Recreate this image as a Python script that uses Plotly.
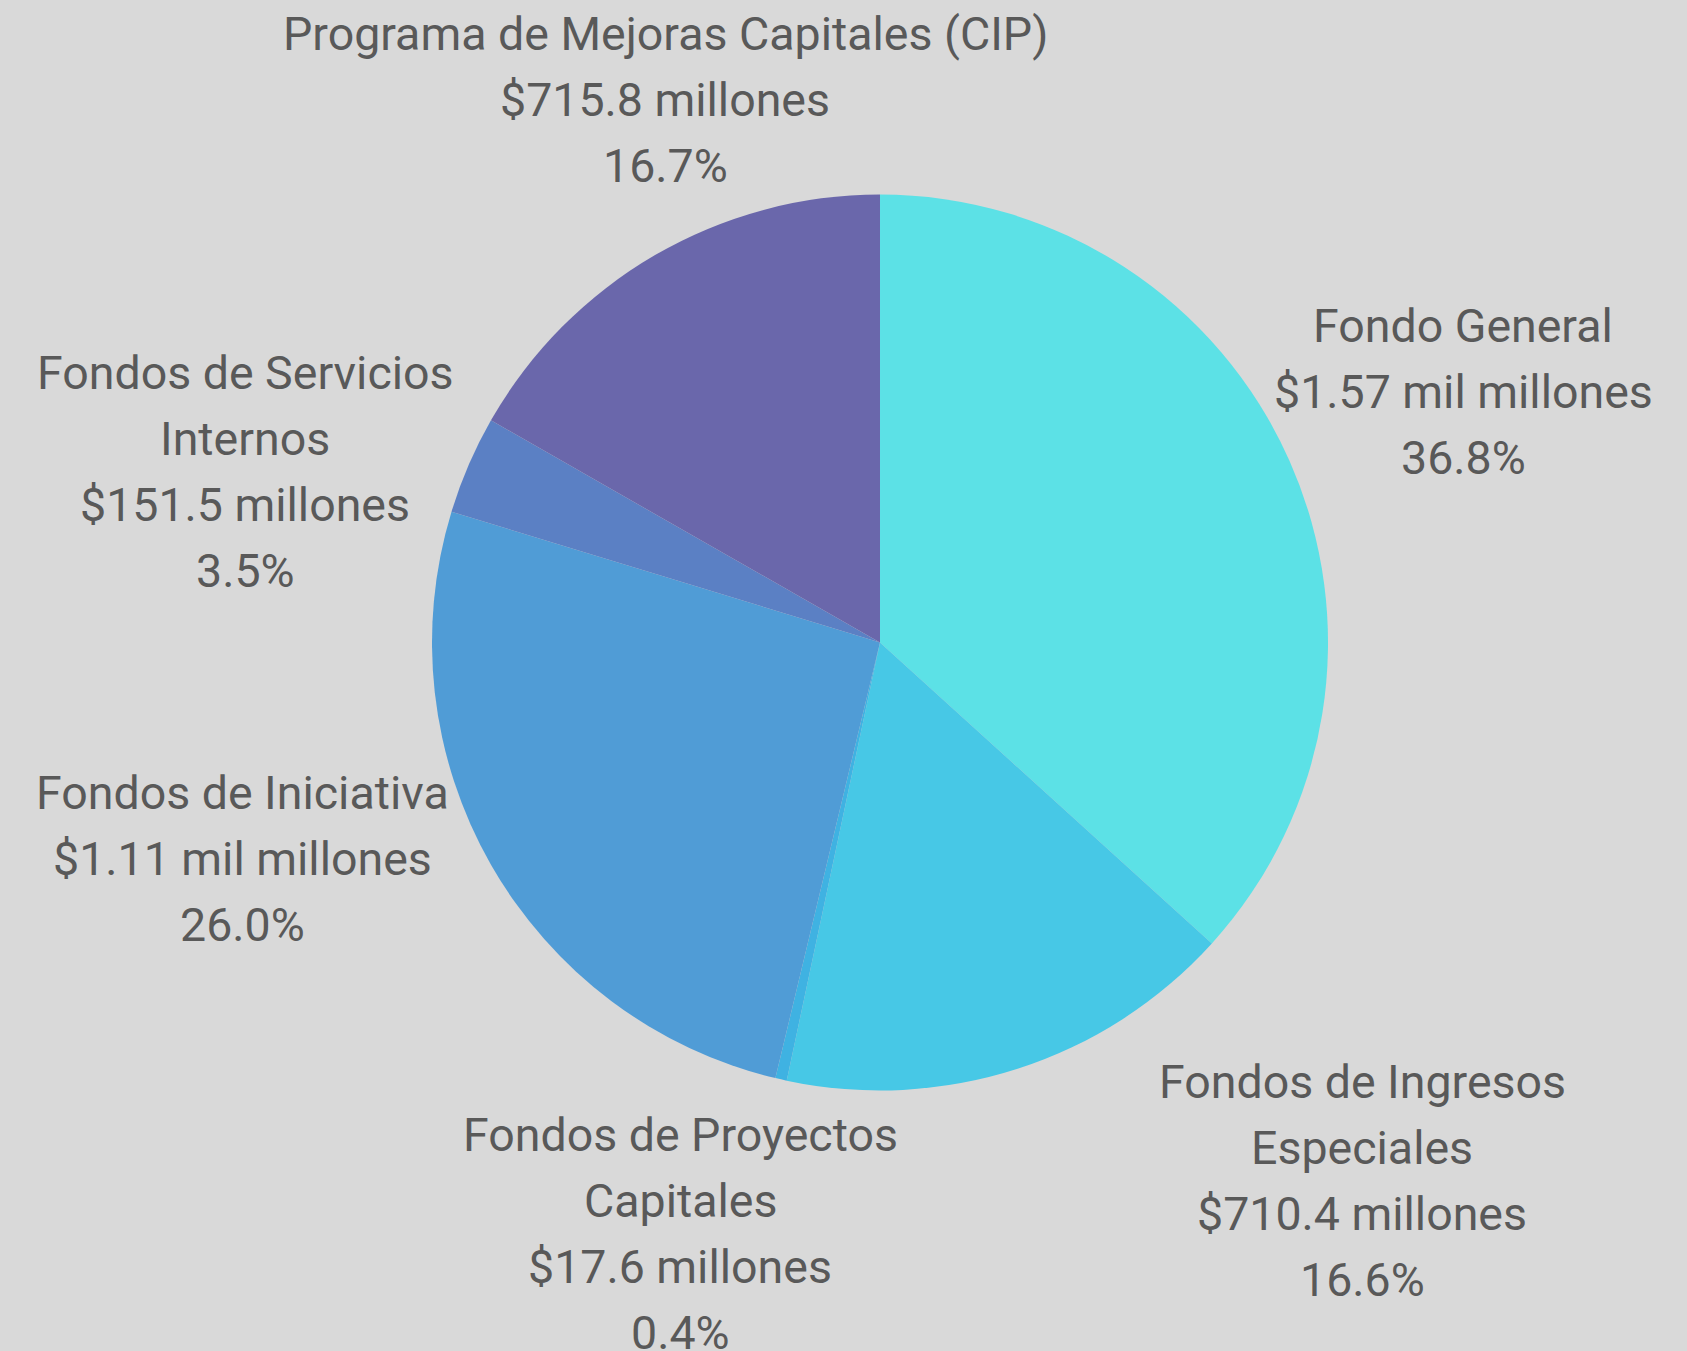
import plotly.graph_objects as go

# Data (millions of USD)
categories = ["Fondo General", "Fondos de Ingresos Especiales", "Fondos de Proyectos Capitales",
              "Fondos de Iniciativa", "Fondos de Servicios Internos", "Programa de Mejoras Capitales (CIP)"]
values = [1570.0, 710.4, 17.6, 1110.0, 151.5, 715.8]
value_labels = ["$1.57 mil millones", "$710.4 millones", "$17.6 millones",
                "$1.11 mil millones", "$151.5 millones", "$715.8 millones"]
pct_labels = ["36.8%", "16.6%", "0.4%", "26.0%", "3.5%", "16.7%"]
name_lines = [["Fondo General"], ["Fondos de Ingresos", "Especiales"], ["Fondos de Proyectos", "Capitales"],
              ["Fondos de Iniciativa"], ["Fondos de Servicios", "Internos"], ["Programa de Mejoras Capitales (CIP)"]]
colors = ["#5ce1e6", "#47c8e6", "#3fb2e2", "#509cd6", "#5b80c4", "#6a67ab"]

W, H = 1687, 1351
cx, cy, r = 880, 642.5, 448

# label block positions (pixel centre x, first-line centre y)
label_pos = [(1463, 326), (1362, 1082), (680, 1135), (243, 793), (245, 373), (665, 34)]
line_gap = 66

fig = go.Figure(go.Pie(
    labels=categories, values=values, sort=False, direction="clockwise", rotation=0,
    marker=dict(colors=colors, line=dict(width=0)), textinfo="none", hoverinfo="label+value",
    domain=dict(x=[(cx - r) / W, (cx + r) / W], y=[1 - (cy + r) / H, 1 - (cy - r) / H]),
    showlegend=False,
))

annotations = []
for i in range(len(categories)):
    lines = name_lines[i] + [value_labels[i], pct_labels[i]]
    x0, y0 = label_pos[i]
    for j, t in enumerate(lines):
        annotations.append(dict(
            text=t, x=x0 / W, y=1 - (y0 + j * line_gap) / H, xref="paper", yref="paper",
            xanchor="center", yanchor="middle", showarrow=False,
            font=dict(family="Roboto", size=46.5, color="#595959"),
        ))

fig.update_layout(
    width=W, height=H, margin=dict(l=0, r=0, t=0, b=0),
    paper_bgcolor="#d9d9d9", plot_bgcolor="#d9d9d9",
    annotations=annotations,
)
fig.write_html("out.html", config={"displayModeBar": False},
               post_script="document.body.style.margin='0px';document.body.style.overflow='hidden';")
